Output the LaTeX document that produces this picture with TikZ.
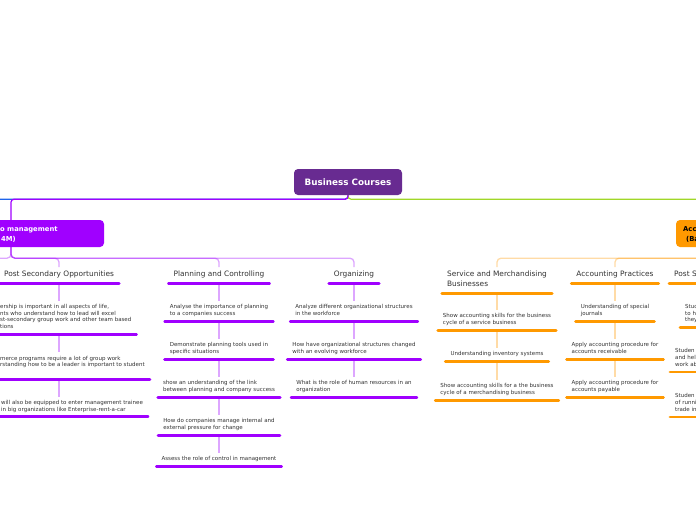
\documentclass[tikz,border=0pt]{standalone}
\usepackage{fontspec}
\setmainfont{DejaVu Sans}
\definecolor{rootc}{RGB}{104,43,145}
\definecolor{vio}{RGB}{160,0,255}
\definecolor{org}{RGB}{255,153,0}
\definecolor{grn}{RGB}{160,215,40}
\definecolor{blu}{RGB}{30,100,235}
\definecolor{txt}{RGB}{51,51,51}
\newcommand\btop{\rule{0pt}{7.5pt}}
\newcommand\bbot{\rule[-5.5pt]{0pt}{0pt}}
\newcommand\htop{\rule{0pt}{9pt}}
\newcommand\hbot{\rule[-7pt]{0pt}{0pt}}
\newcommand\bodyfont{\fontsize{5.5}{6.75}\selectfont}
\newcommand\headfont{\fontsize{7.4}{10}\selectfont}
\begin{document}
\begin{tikzpicture}[x=1pt,y=-1pt,
  every node/.style={inner ysep=0pt, inner xsep=5pt, text=txt},
  body/.style={font=\bodyfont, align=left},
  head/.style={font=\headfont, align=left},
  rootbox/.style={fill=rootc, rounded corners=4pt, text=white, font=\fontsize{8.8}{10}\selectfont\bfseries, minimum width=108pt, minimum height=26pt, inner sep=0pt},
  topbox/.style={rounded corners=4pt, minimum height=27pt, inner sep=0pt},
  boxtxt/.style={font=\fontsize{6.8}{10}\selectfont\bfseries, align=left, inner sep=0pt},
  ulV/.style={draw=vio, line width=2.8pt, line cap=round},
  ulO/.style={draw=org, line width=2.8pt, line cap=round},
  cV/.style={draw=vio, draw opacity=0.35, line width=1.3pt, rounded corners=4pt},
  cO/.style={draw=org, draw opacity=0.35, line width=1.3pt, rounded corners=4pt},
  rl/.style={line width=1.2pt, rounded corners=3pt}
]
\useasboundingbox (0,0) rectangle (696,520);
\clip (0,0) rectangle (696,520);
\fill[white] (0,0) rectangle (696,520);

% top level
\node[rootbox] (root) at (348,182) {Business Courses};
\node[topbox, fill=vio, minimum width=186pt] (ibox) at (11,233.5) {};
\node[boxtxt, text=white, anchor=north west] (iboxt) at (0,224) {\rule{0pt}{6.9pt}o management\\\hspace*{1pt}4M)};
\node[topbox, fill=org, minimum width=100pt] (abox) at (726,233.5) {};
\node[boxtxt, text=black, anchor=north west] (aboxt) at (683,224) {\rule{0pt}{6.9pt}Acc\\\hspace*{3pt}(Ba};
\coordinate (bl) at (-120,221);
\coordinate (gr) at (820,221);
\coordinate (lc) at (-90,267);

\draw[rl, draw=blu] (root.south) -- ++(0,4) -| (bl);
\draw[rl, draw=grn] (root.south) -- ++(0,4) -| (gr);
\draw[rl, draw=vio] (root.south) -- ++(0,4) -| (ibox.north);

% headings
\node[head, anchor=north] (pso) at (59,267) {\htop Post Secondary Opportunities\hbot};
\node[head, anchor=north] (pch) at (219,267) {\htop Planning and Controlling\hbot};
\node[head, anchor=north] (orh) at (354,267) {\htop Organizing\hbot};
\node[head, anchor=north] (smh) at (497,267) {\htop Service and Merchandising\\Businesses\hbot};
\node[head, anchor=north] (aph) at (615,267) {\htop Accounting Practices\hbot};
\node[head, anchor=north west, text width=104pt] (psh) at (669,267) {\htop Post S\hbot};

% connectors from section boxes
\draw[cV] (ibox.south) -- ++(0,11) -| (lc);
\draw[cV] (ibox.south) -- ++(0,11) -| (pso.north);
\draw[cV] (ibox.south) -- ++(0,11) -| (pch.north);
\draw[cV] (ibox.south) -- ++(0,11) -| (orh.north);
\draw[cO] (abox.south) -- ++(0,11) -| (smh.north);
\draw[cO] (abox.south) -- ++(0,11) -| (aph.north);
\draw[cO] (abox.south) -- ++(0,11) -| (psh.north);

% Post Secondary Opportunities column
\node[body, anchor=north west] (po1) at (-5,300.7) {\btop ership is important in all aspects of life,\\nts who understand how to lead will excel\\st-secondary group work and other team based\\tions\bbot};
\node[body, anchor=north west] (po2) at (-5,352.3) {\btop merce programs require a lot of group work\\rstanding how to be a leader is important to student\\\mbox{}\bbot};
\node[body, anchor=north west] (po3) at (-4,396.7) {\btop will also be equipped to enter management trainee\\in big organizations like Enterprise-rent-a-car\bbot};

% Planning and Controlling column
\node[body, anchor=north] (pc1) at (219,301) {\btop Analyse the importance of planning\\to a companies success\bbot};
\node[body, anchor=north] (pc2) at (219,339) {\btop Demonstrate planning tools used in\\specific situations\bbot};
\node[body, anchor=north] (pc3) at (219,377) {\btop show an understanding of the link\\between planning and company success\bbot};
\node[body, anchor=north] (pc4) at (219,415) {\btop How do companies manage internal and\\external pressure for change\bbot};
\node[body, anchor=north] (pc5) at (219,453) {\btop Assess the role of control in management\bbot};

% Organizing column
\node[body, anchor=north] (or1) at (354,301) {\btop Analyze different organizational structures\\in the workforce\bbot};
\node[body, anchor=north] (or2) at (354,339) {\btop How have organizational structures changed\\with an evolving workforce\bbot};
\node[body, anchor=north] (or3) at (354,377) {\btop What is the role of human resources in an\\organization\bbot};

% Service and Merchandising column
\node[body, anchor=north] (sm1) at (497,310) {\btop Show accounting skills for the business\\cycle of a service business\bbot};
\node[body, anchor=north] (sm2) at (497,348) {\btop Understanding inventory systems\bbot};
\node[body, anchor=north] (sm3) at (497,380) {\btop Show accounting skills for a the business\\cycle of a merchandising business\bbot};

% Accounting Practices column
\node[body, anchor=north] (ap1) at (615,301) {\btop Understanding of special\\journals\bbot};
\node[body, anchor=north] (ap2) at (615,339) {\btop Apply accounting procedure for\\accounts receivable\bbot};
\node[body, anchor=north] (ap3) at (615,377) {\btop Apply accounting procedure for\\accounts payable\bbot};

% Post S column
\node[body, anchor=north west, text width=100pt] (ps1) at (680,300.7) {\btop Stud\\to h\\they\bbot};
\node[body, anchor=north west, text width=100pt] (ps2) at (670,345) {\btop Studen\\and hel\\work ab\bbot};
\node[body, anchor=north west, text width=100pt] (ps3) at (670,390) {\btop Studen\\of runni\\trade in\bbot};

% vertical connectors
\draw[cV] (pso.south) -- (po1.north -| pso.south);
\draw[cV] (po1.south -| pso.south) -- (po2.north -| pso.south);
\draw[cV] (po2.south -| pso.south) -- (po3.north -| pso.south);
\draw[cV] (pch.south) -- (pc1.north);
\draw[cV] (pc1.south) -- (pc2.north);
\draw[cV] (pc2.south) -- (pc3.north);
\draw[cV] (pc3.south) -- (pc4.north);
\draw[cV] (pc4.south) -- (pc5.north);
\draw[cV] (orh.south) -- (or1.north);
\draw[cV] (or1.south) -- (or2.north);
\draw[cV] (or2.south) -- (or3.north);
\draw[cO] (smh.south) -- (sm1.north);
\draw[cO] (sm1.south) -- (sm2.north);
\draw[cO] (sm2.south) -- (sm3.north);
\draw[cO] (aph.south) -- (ap1.north);
\draw[cO] (ap1.south) -- (ap2.north);
\draw[cO] (ap2.south) -- (ap3.north);
\draw[cO] (psh.south) -- (ps1.north -| psh.south);
\draw[cO] (ps1.south -| psh.south) -- (ps2.north -| psh.south);
\draw[cO] (ps2.south -| psh.south) -- (ps3.north -| psh.south);

% underlines
\foreach \n in {pso,pch,orh,po1,po2,po3,pc1,pc2,pc3,pc4,pc5,or1,or2,or3}
  \draw[ulV] (\n.south west) -- (\n.south east);
\foreach \n in {smh,aph,psh,sm1,sm2,sm3,ap1,ap2,ap3,ps1,ps2,ps3}
  \draw[ulO] (\n.south west) -- (\n.south east);
\end{tikzpicture}
\end{document}
